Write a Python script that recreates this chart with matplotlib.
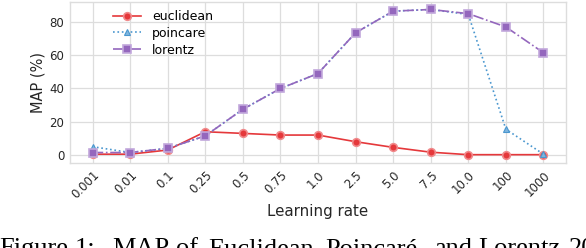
import numpy as np
import matplotlib
matplotlib.use("Agg")
import matplotlib.pyplot as plt

# learning rates (categorical x axis)
lr_labels = ["0.001", "0.01", "0.1", "0.25", "0.5", "0.75", "1.0",
             "2.5", "5.0", "7.5", "10.0", "100", "1000"]

# MAP (%)
euclidean = [0.5, 0.5, 3.0, 14.0, 13.0, 12.0, 12.0, 8.0, 4.6, 1.7, 0.2, 0.2, 0.2]
poincare = [5.0, 1.5, 4.0, 11.5, 27.5, 40.0, 49.0, 73.5, 86.5, 87.5, 84.5, 15.5, 0.5]
lorentz = [1.5, 1.5, 4.0, 11.5, 27.5, 40.0, 49.0, 73.5, 86.5, 87.5, 85.0, 77.0, 61.5]

# caption words (LaTeX-justified, so placed word by word)
caption_words = ["Figure", "1:", "MAP", "of", "Euclidean,", "Poincaré,",
                 "and", "Lorentz", "20"]
caption_px = [-1, 75, 112, 176, 208, 325, 434, 478, 569]

x = np.arange(len(lr_labels))

fig = plt.figure(figsize=(5.86, 2.48), dpi=100)
ax = fig.add_axes([70 / 586, 1 - 163 / 248, 496 / 586, 161 / 248])

ax.plot(x, euclidean, color="#e5383b", linestyle="-", linewidth=1.2,
        marker="o", markersize=5.5, markerfacecolor="#e5383b",
        markeredgecolor="#f08a8c", markeredgewidth=1.2, label="euclidean")
ax.plot(x, poincare, color="#4a97cf", linestyle=":", linewidth=1.2,
        marker="^", markersize=5, markerfacecolor="#7fb5de",
        markeredgecolor="#4a97cf", markeredgewidth=0.8, label="poincare")
ax.plot(x, lorentz, color="#9467bd", linestyle="-.", linewidth=1.2,
        marker="s", markersize=6, markerfacecolor="#9467bd",
        markeredgecolor="#c2a8dc", markeredgewidth=1.2, label="lorentz")

ax.set_xlim(-0.6, 12.6)
ax.set_ylim(-4.8, 92)
ax.set_xticks(x)
ax.set_xticklabels(lr_labels, rotation=45, ha="right", rotation_mode="anchor")
ax.set_yticks([0, 20, 40, 60, 80])
ax.tick_params(axis="both", labelsize=8.5, colors="#262626", length=0, pad=4)
ax.grid(True, color="#dddddd", linewidth=0.9)
ax.set_axisbelow(True)
for s in ax.spines.values():
    s.set_color("#dddddd")
    s.set_linewidth(1.0)

ax.set_xlabel("Learning rate", fontsize=10.8, color="#262626", labelpad=2)
ax.set_ylabel("MAP (%)", fontsize=10.5, color="#262626", labelpad=3)

ax.legend(loc="upper left", bbox_to_anchor=(0.065, 1.02), frameon=False,
          fontsize=9, handlelength=2.2, handletextpad=0.9, labelspacing=0.3)

for word, px in zip(caption_words, caption_px):
    fig.text(px / 586, -0.03, word, family="Liberation Serif",
             fontsize=19, color="black", ha="left", va="baseline")

fig.savefig("out.png", dpi=100)
